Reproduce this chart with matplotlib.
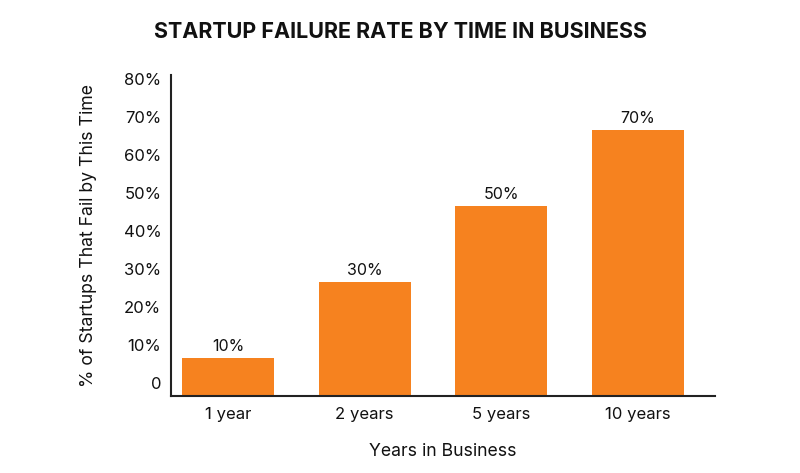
import matplotlib.pyplot as plt
import numpy as np

plt.rcParams['font.family'] = ['Inter', 'DejaVu Sans']

categories = ['1 year', '2 years', '5 years', '10 years']
fail_rate = [10, 30, 50, 70]
ytick_vals = [0, 10, 20, 30, 40, 50, 60, 70, 80]
ytick_labels = ['0', '10%', '20%', '30%', '40%', '50%', '60%', '70%', '80%']

bar_color = '#F6821F'
text_color = '#111111'

fig = plt.figure(figsize=(8, 4.73), dpi=100)
ax = fig.add_axes([0.2138, 0.1628, 0.6800, 0.6786])

x = np.arange(len(categories))
bars = ax.bar(x, fail_rate, width=0.673, color=bar_color, zorder=2)

for b, v in zip(bars, fail_rate):
    ax.annotate(f'{v}%', (b.get_x() + b.get_width() / 2, b.get_height()),
                xytext=(0, 3), textcoords='offset points',
                ha='center', va='bottom', fontsize=11.5, color=text_color)

ax.set_xlim(-0.417, 3.563)
ax.set_ylim(0, 84.5)
ax.set_xticks(x)
ax.set_xticklabels(categories, fontsize=12, color=text_color)
# the reference draws its y labels a bit above the gridline values
ax.set_yticks(np.array(ytick_vals) + 3.5)
ax.set_yticklabels(ytick_labels, fontsize=12, color=text_color)
ax.tick_params(axis='both', length=0)
ax.tick_params(axis='y', pad=7)
ax.tick_params(axis='x', pad=8)

for s in ['top', 'right']:
    ax.spines[s].set_visible(False)
for s in ['left', 'bottom']:
    ax.spines[s].set_linewidth(1.5)
    ax.spines[s].set_color('#222222')

ax.set_xlabel('Years in Business', fontsize=12.7, color=text_color, labelpad=15)
ax.set_ylabel('% of Startups That Fail by This Time', fontsize=12.7,
              color=text_color, labelpad=19)

fig.text(0.5, 0.933, 'STARTUP FAILURE RATE BY TIME IN BUSINESS',
         ha='center', va='center', fontsize=15.5, fontweight='bold',
         color=text_color)

fig.savefig('out.png', dpi=100, facecolor='white')
